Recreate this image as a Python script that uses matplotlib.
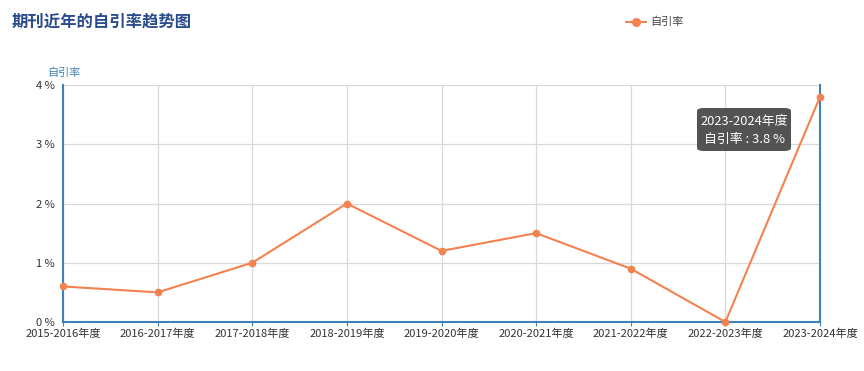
import matplotlib
matplotlib.use("Agg")
import matplotlib.pyplot as plt
from matplotlib.patches import FancyBboxPatch
from matplotlib.lines import Line2D

plt.rcParams['font.family'] = ['Noto Sans CJK SC', 'DejaVu Sans']

categories = ["2015-2016年度", "2016-2017年度", "2017-2018年度", "2018-2019年度",
              "2019-2020年度", "2020-2021年度", "2021-2022年度", "2022-2023年度",
              "2023-2024年度"]
values = [0.6, 0.5, 1.0, 2.0, 1.2, 1.5, 0.9, 0.0, 3.8]
yticks = [0, 1, 2, 3, 4]
ytick_labels = ["0 %", "1 %", "2 %", "3 %", "4 %"]
series_name = "自引率"
title = "期刊近年的自引率趋势图"

line_color = "#f4824f"
axis_color = "#3d82bd"

fig = plt.figure(figsize=(8.64, 3.71), dpi=100)
ax = fig.add_axes([63/864, 1-322/371, (820-63)/864, (322-85)/371])

x = list(range(len(categories)))
ax.plot(x, values, color=line_color, lw=1.5, marker='o', ms=4.5, zorder=3, clip_on=False)

ax.set_xlim(0, len(categories)-1)
ax.set_ylim(0, 4)
ax.set_xticks(x)
ax.set_xticklabels(categories, fontsize=8, color="#333333")
ax.set_yticks(yticks)
ax.set_yticklabels(ytick_labels, fontsize=8, color="#333333")
ax.grid(True, color="#d9d9d9", lw=0.9)
ax.set_axisbelow(True)

for s in ["left", "right", "bottom"]:
    ax.spines[s].set_color(axis_color)
    ax.spines[s].set_linewidth(1.5)
ax.spines["top"].set_visible(False)
ax.tick_params(axis='x', length=3, color=axis_color, pad=2)
ax.tick_params(axis='y', length=0, pad=6)

fig.text(47/864, 1-73/371, series_name, fontsize=8, color=axis_color, va='center', ha='left')
fig.text(12/864, 1-22/371, title, fontsize=11.8, fontweight='heavy', color="#2b4c8c", va='center', ha='left')

# legend
ly = 1-22/371
fig.add_artist(Line2D([626/864, 632/864], [ly, ly], color=line_color, lw=1.4, transform=fig.transFigure))
fig.add_artist(Line2D([640/864, 646/864], [ly, ly], color=line_color, lw=1.4, transform=fig.transFigure))
fig.add_artist(Line2D([636/864], [ly], color=line_color, marker='o', ms=5.5, transform=fig.transFigure))
fig.text(650/864, ly, series_name, fontsize=8, color="#444444", va='center', ha='left')

# tooltip
bx, by, bw, bh = 697/864, 1-151/371, 94/864, 43/371
box = FancyBboxPatch((bx, by), bw, bh, boxstyle="round,pad=0,rounding_size=0.008",
                     transform=fig.transFigure, facecolor="#4a4a4a", edgecolor="none", alpha=0.95)
fig.add_artist(box)
fig.text(bx+bw/2, 1-121/371, categories[-1], fontsize=9.3, color="white", ha='center', va='center')
fig.text(bx+bw/2, 1-139/371, f"{series_name} : {values[-1]} %", fontsize=9.3, color="white", ha='center', va='center')

fig.savefig("out.png", dpi=100, facecolor="white")
